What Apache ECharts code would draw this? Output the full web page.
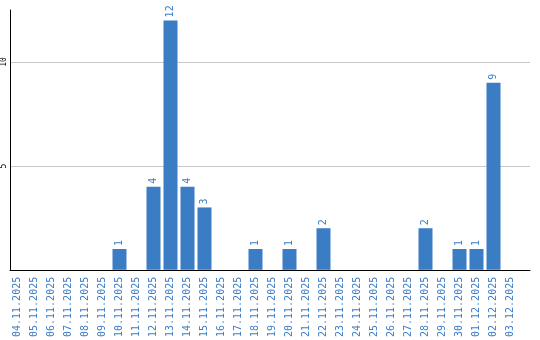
<!DOCTYPE html>
<html><head><meta charset="utf-8">
<script src="https://cdn.jsdelivr.net/npm/echarts@6/dist/echarts.min.js"></script>
<style>html,body{margin:0;padding:0;background:#fff}#c{width:540px;height:340px}</style>
</head><body><div id="c"></div>
<script>
const categories = ["04.11.2025","05.11.2025","06.11.2025","07.11.2025","08.11.2025","09.11.2025","10.11.2025","11.11.2025","12.11.2025","13.11.2025","14.11.2025","15.11.2025","16.11.2025","17.11.2025","18.11.2025","19.11.2025","20.11.2025","21.11.2025","22.11.2025","23.11.2025","24.11.2025","25.11.2025","26.11.2025","27.11.2025","28.11.2025","29.11.2025","30.11.2025","01.12.2025","02.12.2025","03.12.2025"];
const values = [0,0,0,0,0,0,1,0,4,12,4,3,0,0,1,0,1,0,2,0,0,0,0,0,2,0,1,1,9,0];
const yTicks = [5,10];

const blue = '#3b7dc4';
const chart = echarts.init(document.getElementById('c'), null, {renderer:'canvas'});
chart.setOption({
  animation:false,
  grid:[
    {left:9, width:510, top:10, bottom:70},
    {left:10, right:10, top:10, bottom:70}
  ],
  xAxis:[
    {type:'category', gridIndex:0, data:categories, boundaryGap:true,
     axisLine:{show:false}, axisTick:{show:false},
     axisLabel:{rotate:90, interval:0, margin:7, color:blue, fontFamily:'DejaVu Sans Mono', fontSize:10}},
    {type:'value', gridIndex:1, min:0, max:1, axisLine:{show:true, lineStyle:{color:'#000', width:1}},
     axisTick:{show:false}, axisLabel:{show:false}, splitLine:{show:false}}
  ],
  yAxis:[
    {type:'value', gridIndex:0, min:0, max:12.5, show:false, splitLine:{show:false}},
    {type:'value', gridIndex:1, min:0, max:12.5, interval:5,
     axisLine:{show:true, lineStyle:{color:'#000', width:1}}, axisTick:{show:false},
     axisLabel:{rotate:90, margin:2, color:'#000', fontFamily:'DejaVu Sans Mono', fontSize:8,
       align:'center', verticalAlign:'bottom', showMinLabel:false, showMaxLabel:false,
       formatter:v => yTicks.includes(v) ? String(v) : ''},
     splitLine:{show:true, showMinLine:false, showMaxLine:false, lineStyle:{color:'#c8c8c8', width:1}}}
  ],
  series:[{
    type:'bar', xAxisIndex:0, yAxisIndex:0, data:values.map(v => v === 0 ? null : v),
    barWidth:14, itemStyle:{color:blue},
    label:{show:true, position:'top', rotate:90, align:'left', verticalAlign:'middle', distance:3,
      color:blue, fontFamily:'DejaVu Sans Mono', fontSize:10}
  }]
});
</script></body></html>
